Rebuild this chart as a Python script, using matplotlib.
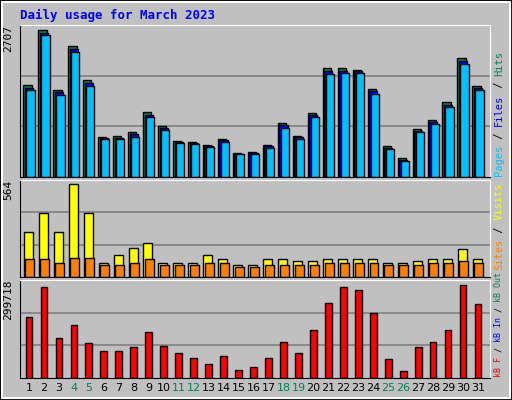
import matplotlib
matplotlib.use('Agg')
import matplotlib.pyplot as plt
from matplotlib.patches import Rectangle

days = list(range(1, 32))
hits = [1694, 2707, 1602, 2412, 1786, 736, 755, 828, 1197, 939, 663, 644, 589, 700, 442, 460,
        589, 994, 755, 1178, 2007, 2007, 1970, 1620, 571, 350, 884, 1049, 1381, 2191, 1675]
files = [1640, 2660, 1560, 2360, 1730, 720, 720, 790, 1140, 900, 640, 620, 570, 680, 430, 440,
         570, 950, 730, 1140, 1950, 1960, 1950, 1580, 540, 320, 850, 1010, 1330, 2140, 1630]
pages = [1600, 2610, 1510, 2310, 1680, 700, 700, 740, 1100, 860, 620, 600, 560, 650, 420, 430,
         540, 900, 700, 1100, 1900, 1920, 1920, 1520, 520, 290, 820, 980, 1280, 2080, 1600]
visits = [270, 386, 270, 564, 386, 86, 135, 178, 208, 86, 86, 86, 135, 110, 74, 74,
          110, 110, 98, 98, 110, 110, 110, 110, 86, 86, 98, 110, 110, 172, 110]
sites = [110, 110, 86, 116, 116, 74, 74, 86, 110, 74, 74, 74, 86, 86, 61, 61,
         74, 74, 74, 74, 86, 86, 86, 86, 74, 74, 74, 86, 86, 98, 86]
kbytes = [197640, 293166, 128466, 171288, 112000, 85644, 85644, 98820, 148230, 102114, 79056,
          65880, 46116, 72468, 26352, 36234, 65880, 115290, 79056, 154818, 240462, 293166,
          283284, 210816, 62586, 23058, 98820, 115290, 154818, 299718, 237168]
weekend = [4, 5, 11, 12, 18, 19, 25, 26]

BG = '#C0C0C0'
W, H = 512, 400
mono = 'DejaVu Sans Mono'

fig = plt.figure(figsize=(5.12, 4.0), dpi=100, facecolor=BG)
fig.patches.append(Rectangle((0, 0), 1, 1, transform=fig.transFigure, fill=False,
                             edgecolor='black', linewidth=2))
fig.patches.append(Rectangle((2 / W, 2 / H), 1 - 4 / W, 1 - 4 / H, transform=fig.transFigure,
                             fill=False, edgecolor='white', linewidth=1.5))
fig.text(20 / W, 1 - 15 / H, 'Daily usage for March 2023', color='#0000FF', fontsize=9,
         fontweight='bold', family=mono, va='center')


def panel(top, bottom, ymax):
    ax = fig.add_axes([20 / W, 1 - bottom / H, 470 / W, (bottom - top) / H])
    ax.set_facecolor(BG)
    ax.set_xlim(0.4, 31.8)
    ax.set_ylim(0, ymax)
    ax.set_xticks([])
    ax.set_yticks([])
    for s in ax.spines.values():
        s.set_color('black')
    ax.spines['top'].set_color('white')
    ax.spines['right'].set_color('white')
    for f in (1 / 3, 2 / 3):
        ax.axhline(ymax * f, color='#808080', linewidth=1.2, zorder=0)
    return ax


def maxlabel(ax, txt):
    ax.text(-0.015, 1.0, txt, rotation=90, transform=ax.transAxes, ha='right', va='top',
            fontsize=8, family=mono)


def side(parts, y0, fs):
    # coloured label pieces stacked bottom-up along the right edge (pixels)
    y = y0
    step = 0.602 * fs * 100 / 72
    for txt, col in parts:
        fig.text(494 / W, 1 - y / H, txt, color=col, rotation=90, fontsize=fs, family=mono,
                 ha='left', va='bottom')
        y -= len(txt) * step


# top panel
ax1 = panel(25, 177, 2707 * 152 / 147)
ax1.bar([d - 0.1 for d in days], hits, width=0.55, color='#00805C', edgecolor='black', lw=1)
ax1.bar(days, files, width=0.55, color='#0000FF', edgecolor='black', lw=1)
ax1.bar([d + 0.1 for d in days], pages, width=0.55, color='#00C0FF', edgecolor='black', lw=1)
maxlabel(ax1, '2707')

# middle panel
ax2 = panel(180, 277, 564 * 97 / 93)
ax2.bar([d - 0.05 for d in days], visits, width=0.6, color='#FFFF00', edgecolor='black', lw=1)
ax2.bar([d + 0.05 for d in days], sites, width=0.6, color='#FF8000', edgecolor='black', lw=1)
maxlabel(ax2, '564')

# bottom panel
ax3 = panel(280, 378, 299718 * 98 / 93)
ax3.bar(days, kbytes, width=0.45, color='#FF0000', edgecolor='black', lw=1)
maxlabel(ax3, '299718')
for d in days:
    ax3.text(d, -0.1, str(d), transform=ax3.get_xaxis_transform(), ha='center', va='center',
             fontsize=8, color='#00805C' if d in weekend else 'black')

side([('Pages', '#00C0FF'), (' / ', 'black'), ('Files', '#0000FF'), (' / ', 'black'),
      ('Hits', '#00805C')], 176, 7.5)
side([('Sites', '#FF8000'), (' / ', 'black'), ('Visits', '#FFFF00')], 270, 7.5)
side([('kB F', '#FF0000'), (' / ', 'black'), ('kB In', '#0000FF'), (' / ', 'black'),
      ('kB Out', '#00805C')], 377, 6)

fig.savefig('out.png', dpi=100, facecolor=BG)
